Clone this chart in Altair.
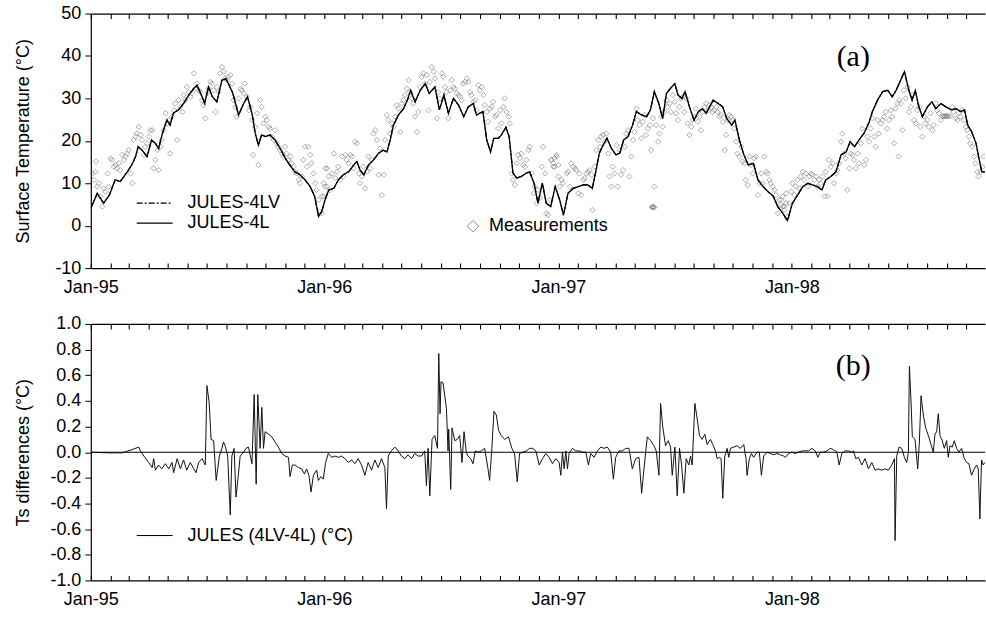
import altair as alt
import pandas as pd

# ---------------- data (days since 1995-01-01) ----------------
ts_days = [0,10,20,29,38,46,57,64,70,74,80,88,95,101,106,112,119,124,129,137,145,153,161,166,174,178,184,190,197,205,211,215,222,231,239,245,252,257,262,267,273,280,288,296,304,311,319,327,335,343,350,356,361,366,372,380,387,395,403,411,416,421,427,434,442,450,457,463,468,473,481,489,495,500,507,515,523,529,538,545,552,559,567,575,583,590,598,603,613,619,625,630,637,642,649,654,660,666,673,681,686,693,699,706,712,719,726,733,739,746,754,762,770,777,784,789,795,801,807,814,821,827,833,840,847,853,861,869,875,881,888,894,900,906,913,918,924,929,936,943,950,956,962,973,981,988,994,1002,1007,1014,1021,1028,1036,1043,1051,1059,1067,1074,1082,1089,1097,1105,1113,1121,1128,1136,1143,1149,1157,1165,1173,1181,1187,1194,1201,1209,1217,1222,1230,1238,1246,1253,1259,1265,1272,1279,1284,1289,1294,1300,1308,1315,1321,1329,1337,1345,1353,1360,1366,1371,1377,1384,1389,1393,1399]
ts_4l = [4.1,7.6,5.3,7.2,10.8,10.4,12.7,14.3,16.3,18.6,17.8,16.3,20.2,19.4,18.2,21.8,24.9,23.7,26.5,27.3,28.8,30.8,32.3,33.1,30.4,28.8,32.7,30.4,29.2,34.3,34.7,33.5,31.2,26.1,28.8,30.4,26.5,21.8,19.0,21.4,21.0,21.4,20.2,18.2,15.9,14.3,12.7,12.0,10.8,9.2,6.9,2.2,3.3,6.0,8.4,8.8,10.8,12.0,12.7,14.3,15.1,13.1,12.0,14.3,15.5,17.1,17.8,17.4,20.2,23.7,26.1,27.6,29.6,31.9,29.2,31.9,33.5,31.2,32.7,27.3,30.8,26.5,30.0,28.4,25.7,28.0,28.8,26.1,26.9,20.2,17.4,20.6,20.6,21.4,23.2,21.0,12.4,11.2,11.6,12.4,12.7,10.0,5.3,10.0,5.3,4.5,9.2,6.1,2.5,7.6,8.8,9.2,9.6,9.6,8.8,12.4,17.1,19.0,20.6,18.2,16.7,17.1,20.2,21.0,23.7,26.9,26.1,25.7,27.3,31.6,28.8,25.3,31.2,32.3,33.5,30.8,30.0,31.6,28.0,24.9,26.9,27.6,26.5,29.6,28.8,28.0,25.3,23.7,24.9,20.2,16.7,14.3,14.7,10.8,9.2,8.0,6.9,4.5,2.9,1.2,5.3,7.2,9.2,10.0,9.6,9.2,8.4,10.8,11.6,12.7,16.7,17.4,19.8,18.6,20.2,21.8,24.5,26.9,29.6,31.6,31.9,30.4,31.9,33.9,36.3,31.9,29.6,31.9,28.4,25.7,28.0,29.2,27.6,28.8,28.0,27.3,27.6,26.9,27.3,23.7,22.2,19.4,15.5,12.7,12.7]
# JULES-4LV cannot be told apart from JULES-4L at this resolution (differences < 1 degC)
ts_4lv = list(ts_4l)

meas_days = [2,5,7,10,8,15,18,13,20,23,26,28,31,33,36,39,41,44,46,49,52,54,57,59,62,65,67,70,72,75,78,80,83,85,88,91,93,96,98,101,104,106,109,111,114,117,119,122,124,127,130,132,135,137,140,143,145,148,150,153,156,158,161,163,166,169,171,174,176,179,182,184,187,189,192,195,197,200,202,205,208,210,213,215,218,221,223,226,228,231,234,236,239,241,244,247,249,252,254,257,260,262,265,267,270,273,275,278,280,283,286,288,291,293,296,299,301,304,306,309,312,314,317,319,322,325,327,330,332,335,338,340,343,345,348,351,353,356,358,361,364,366,369,
 361,364,367,369,372,374,377,380,382,385,387,390,393,395,398,400,403,406,408,411,413,416,419,421,424,426,429,432,434,437,439,442,445,447,450,452,455,458,460,463,465,468,471,473,476,478,481,484,486,489,491,494,497,499,502,504,507,510,512,515,517,520,523,525,528,530,533,536,538,541,543,546,549,551,554,556,559,562,564,567,569,572,575,577,580,582,585,588,590,593,595,598,601,603,606,608,611,614,616,619,621,624,627,629,632,634,637,640,642,645,647,650,653,655,658,660,663,666,668,671,673,676,679,681,684,686,689,692,694,697,699,702,705,707,710,712,715,718,720,723,725,728,731,
 720,723,725,728,731,733,736,738,744,746,749,751,754,757,759,762,764,767,770,772,775,777,780,783,784,788,790,793,796,798,801,803,806,809,811,814,816,819,822,824,827,829,832,835,837,840,842,845,848,850,853,855,858,861,863,866,868,871,874,876,879,881,884,887,889,892,894,897,900,902,905,907,910,913,915,918,920,923,926,928,931,933,936,939,941,944,946,949,952,954,957,959,962,965,967,970,972,975,978,980,983,985,988,991,993,996,998,1001,1004,1006,1009,1011,1014,1017,1019,1022,1024,1027,1030,1032,1035,1037,1040,1043,1045,1048,1050,1053,1056,1058,1061,1063,1066,1069,1071,1074,1076,1079,1082,1084,1087,877,878,879,880,881,
 1079,1082,1084,1087,1089,1092,1095,1097,1100,1102,1105,1108,1110,1113,1115,1118,1121,1123,1126,1128,1131,1134,1136,1139,1141,1144,1147,1149,1152,1154,1157,1160,1162,1165,1167,1170,1173,1175,1178,1180,1183,1186,1188,1191,1193,1196,1199,1201,1204,1206,1209,1212,1214,1217,1219,1222,1225,1227,1230,1232,1235,1238,1240,1243,1245,1248,1251,1253,1256,1258,1261,1263,1264,1266,1269,1271,1274,1277,1279,1282,1284,1287,1290,1292,1295,1297,1300,1303,1305,1308,1310,1313,1316,1318,1321,1323,1326,1329,1331,1333,1335,1336,1338,1339,1341,1344,1347,1349,1352,1355,1357,1360,1362,1365,1368,1370,1373,1375,1378,1381,1383,1386,1388,1391,1394,1396]
meas_vals = [12.3,10.8,12.7,9.2,15.1,6.9,4.5,10.0,8.8,8.0,12.3,9.2,15.9,15.5,13.9,14.3,13.5,14.7,13.1,16.7,15.5,16.3,17.0,17.8,12.3,10.0,20.2,21.0,21.7,23.3,21.4,20.2,16.7,18.6,19.4,21.0,22.5,22.5,13.5,15.5,17.8,13.1,18.6,20.2,22.5,26.5,24.1,24.9,17.0,25.7,27.2,28.8,20.2,29.6,28.0,26.8,30.8,29.6,32.7,31.5,30.4,31.2,35.9,32.3,33.5,31.9,31.5,29.6,28.4,25.3,31.2,32.3,33.9,33.5,31.9,26.8,32.7,31.5,35.9,37.4,36.3,34.7,34.3,35.1,35.5,33.5,29.6,28.0,25.7,30.0,32.3,31.9,31.2,33.5,30.4,27.2,28.0,24.9,16.7,23.3,26.5,14.3,29.6,28.0,24.1,25.7,24.9,23.3,22.9,21.0,20.2,22.5,19.4,18.6,17.8,17.0,16.3,18.6,17.0,15.5,16.3,14.7,13.9,12.7,12.3,10.8,10.0,11.6,15.5,18.6,13.9,18.6,16.7,14.7,12.3,10.0,8.4,6.1,3.3,2.9,6.9,9.2,13.5,
 6.9,10.0,13.5,9.2,11.6,8.4,12.3,17.0,11.2,12.7,13.9,10.8,16.3,11.6,16.7,15.5,14.7,16.7,16.3,13.5,19.8,19.4,12.3,10.0,11.6,13.9,8.8,12.7,16.3,13.5,15.5,21.7,22.5,20.2,12.0,18.2,7.2,12.0,20.2,26.1,24.9,21.7,24.1,23.3,25.7,28.4,27.6,22.1,28.8,29.6,30.8,32.3,34.3,31.5,30.0,28.8,25.7,22.1,26.8,32.7,35.1,35.9,33.5,35.5,27.2,33.9,37.4,36.3,34.7,25.3,31.5,30.0,35.9,35.1,32.7,31.5,25.3,31.9,34.3,32.7,32.3,31.2,30.8,30.4,29.6,33.5,33.9,34.7,33.9,31.5,30.8,29.2,29.6,27.2,33.1,31.9,32.7,30.8,28.4,26.8,24.5,27.6,28.0,29.2,25.7,26.1,22.9,27.2,24.1,28.0,30.0,26.8,25.7,24.1,12.3,10.8,9.6,14.7,16.7,15.9,17.0,14.3,13.9,15.5,17.8,18.6,12.3,7.6,9.2,5.3,8.4,6.5,13.9,18.6,12.3,2.9,2.5,6.1,15.5,14.7,13.9,16.3,11.6,
 15.5,13.9,15.9,16.7,14.3,9.2,10.8,10.0,12.3,12.7,9.2,14.7,13.9,13.5,13.1,7.6,12.3,7.2,10.8,11.2,12.3,12.7,13.1,12.0,3.7,13.9,17.8,20.2,18.6,21.0,21.4,19.8,21.7,17.0,11.6,9.2,13.9,12.3,19.0,9.2,17.8,12.0,13.1,18.6,21.7,22.5,11.6,16.3,20.2,22.1,27.6,24.9,23.7,20.6,24.5,26.1,21.4,22.9,23.7,17.8,25.3,9.2,23.7,19.8,21.7,25.7,23.3,26.8,29.6,28.0,28.8,26.8,30.8,29.2,26.5,24.9,28.0,30.0,30.4,26.8,30.0,24.1,21.4,23.3,24.9,25.7,27.6,24.5,25.7,22.5,26.8,28.0,28.8,27.2,28.4,28.0,26.8,27.2,28.0,26.8,25.7,26.1,24.5,17.8,21.4,24.9,26.1,25.7,24.9,22.9,19.8,17.0,16.3,18.6,15.1,14.7,10.8,9.6,16.3,14.3,12.3,15.9,16.3,7.2,10.0,12.3,10.0,16.3,12.7,12.3,10.8,10.0,9.2,8.4,7.2,2.9,6.1,4.9,4.5,3.7,5.3,4.4,4.4,4.3,4.4,4.3,
 6.1,6.9,4.5,7.6,2.1,5.3,8.0,10.0,7.2,9.2,10.8,8.8,11.6,12.7,10.8,12.3,9.2,11.6,12.3,12.0,10.8,11.6,9.2,10.8,10.0,11.6,6.9,12.7,6.9,15.5,13.9,14.7,10.0,12.3,13.1,14.7,19.8,21.7,17.0,15.9,8.4,13.5,17.0,16.7,15.5,13.5,17.0,14.7,19.4,22.9,14.3,15.5,21.0,19.8,22.9,25.3,21.0,18.6,24.9,21.7,24.1,24.9,25.7,26.8,22.9,24.9,27.2,25.7,19.4,27.6,28.8,16.3,29.6,28.8,22.5,31.9,30.0,32.7,26.8,28.0,30.8,24.9,24.1,27.2,28.0,23.3,21.0,25.7,24.1,24.9,23.3,26.5,22.5,23.7,28.8,27.2,26.5,24.9,25.8,25.8,25.8,25.8,25.8,25.8,25.8,25.8,28.0,26.8,25.3,24.9,26.5,25.7,27.2,24.9,23.3,22.5,21.0,19.4,18.6,16.3,14.7,12.7,11.6,12.7,13.9,16.3]

diff_days = [0,28,49,64.5,75,77.5,83,90.5,96,98.3,101,106,111,116.5,122,127,129.5,135,140,145,150,155.5,161,164.5,168.5,174,179,181.5,185,188,192,196,201,205,207.5,210,214,218,220.5,224,227,230,233.5,239,242.5,246.5,252,255.4,258.5,261,264.7,267.3,270,272.5,278,283,288,293.3,298.5,303.7,309,311.5,315,319.3,324.5,329.7,334,337.5,341,344.3,348,353,355.7,360,363.5,367,371.3,376.5,381.7,387,392,397.3,402.5,407.7,413,418,423.3,428.5,433.7,439,444,449.3,454.5,459.7,462.3,465,470,475.3,480.5,485.7,491,496,501.3,506.5,511.7,517,522,524.7,527.3,530,533.5,537.7,542,544,546,547.5,550.7,556,558.5,559.5,562.7,564.7,569,573,576.7,580.3,583.5,587,589.7,594,597.5,601,605.3,610.5,615.7,621,623.5,627,630.3,634,637.5,641.7,647,653,658.3,662.5,666.7,670.3,675.5,680.7,686,691,695.8,
 701,706.2,711.4,716.6,721.8,727,732.2,734.8,737.4,740,742.6,745.2,747.8,753,758.2,763.4,768.6,773.8,778,781.6,786.8,792,797.2,802.4,807.6,812.8,817,820.6,825.8,831,836.2,841.4,846.6,851.8,857,861.2,864.8,870,875.2,880.4,884,888.2,890.8,894.4,898.6,902.8,906.4,909,913.2,916.8,920.4,923.6,927.2,930.8,935,937.6,940.2,944.4,948,951.6,955.8,960,963.6,968.8,972.4,976.6,979.2,982.8,985.4,988,991.2,994.8,997.4,1000,1005.2,1010.4,1015.6,1020.8,1024.4,1026,1029.6,1032.8,1036.4,1041.6,1045.2,1048.4,1052,1057.2,1062.4,1067.6,1072.8,1078,1083.2,1085.8,1091,1096.2,1101.4,1106.6,1111.8,1117,1122.2,1127.4,1132.6,1136.8,1140.4,1145.6,1150.8,1156,1161.2,1166.4,1170,1174.2,1179.4,1184.6,1189.8,1192.4,1196,1200.2,1205.4,1210.6,1215.8,1221,1226.2,1231.4,1236.6,1241.8,1247,1252.2,1256.4,1257.4,1260,1263.6,1267.8,1272,1275.6,1278.2,1279.8,1282.4,1284.4,1288.6,1292.8,1295.4,1298,1301.6,1305.2,1309.4,1313.6,1317.2,1319.8,1322.4,1325,1327.6,1331.2,1334.4,1338,1340.6,1343.2,1346.8,1350,1353.6,1357.2,1361.4,1365.6,1369.2,1372.8,1377,1381.2,1384.8,1387.4,1390,1392.6,1395.2,1397.8]
diff_vals = [0.0,-0.005,-0.005,0.02,0.04,0.01,-0.03,-0.08,-0.12,-0.05,-0.14,-0.10,-0.13,-0.09,-0.13,-0.08,-0.16,-0.05,-0.13,-0.06,-0.14,-0.08,-0.13,-0.16,-0.08,-0.05,-0.10,0.52,0.39,0.10,0.09,-0.22,-0.03,0.03,0.08,0.05,-0.03,-0.49,-0.03,0.03,-0.35,-0.21,-0.03,0.0,0.03,0.04,-0.09,0.45,-0.25,0.45,0.03,0.35,0.03,0.16,0.14,0.12,0.08,0.04,-0.01,-0.03,-0.04,-0.19,-0.10,-0.10,-0.12,-0.13,-0.17,-0.13,-0.18,-0.31,-0.18,-0.14,-0.22,-0.19,-0.21,-0.08,-0.01,-0.04,-0.03,-0.04,-0.03,-0.05,-0.08,-0.06,-0.09,-0.05,-0.10,-0.18,-0.08,-0.14,-0.06,-0.12,-0.05,-0.12,-0.44,-0.03,0.01,0.04,0.01,-0.03,-0.05,-0.02,-0.05,-0.01,-0.03,-0.03,0.01,-0.26,0.03,-0.34,0.10,0.13,0.03,0.77,0.30,0.55,0.54,0.34,0.01,0.18,-0.29,0.19,0.09,0.10,0.13,-0.08,0.16,0.0,-0.03,-0.05,-0.09,0.01,0.0,0.01,0.03,-0.13,-0.22,0.03,0.32,0.29,0.17,0.13,0.10,0.12,0.03,-0.01,-0.23,-0.01,0.0,0.01,0.03,0.03,0.01,
 -0.10,-0.05,-0.01,-0.04,-0.09,-0.05,-0.08,-0.18,0.0,-0.13,0.01,-0.13,-0.01,0.03,0.01,0.01,0.0,0.0,-0.10,-0.01,-0.04,0.01,0.04,0.03,0.04,0.0,-0.21,-0.04,0.01,0.01,0.03,0.03,-0.13,-0.05,-0.04,-0.32,-0.13,0.12,0.09,0.05,0.01,-0.18,0.38,0.19,0.05,0.09,0.04,-0.18,0.04,-0.34,0.03,-0.10,-0.32,-0.05,-0.10,-0.03,-0.10,0.38,0.26,0.13,0.10,0.14,0.06,0.10,0.06,0.01,-0.05,-0.04,-0.05,-0.36,-0.03,0.03,-0.04,0.03,0.04,0.05,0.03,0.06,-0.05,-0.18,-0.05,-0.01,-0.04,0.0,0.0,-0.18,-0.03,0.0,-0.01,-0.02,-0.01,-0.02,-0.03,-0.04,-0.01,0.0,-0.01,0.0,0.01,0.01,0.01,0.03,0.01,-0.04,0.0,0.0,0.01,0.03,0.02,0.0,-0.10,-0.01,0.01,0.01,0.0,0.01,-0.05,-0.04,-0.10,-0.05,-0.13,-0.08,-0.14,-0.13,-0.14,-0.13,-0.14,-0.10,-0.05,-0.69,-0.03,0.04,0.03,-0.04,-0.08,0.0,0.67,0.39,0.12,0.10,-0.13,0.08,0.44,0.29,0.19,0.13,0.06,0.0,0.14,0.16,0.30,0.13,0.09,0.03,0.09,-0.04,0.05,0.04,0.09,0.03,0.0,0.03,-0.05,-0.08,-0.09,-0.18,-0.13,-0.10,-0.13,-0.52,-0.06,-0.10,-0.08]

# legend / annotation text
legend_a_labels = ["JULES-4LV", "JULES-4L"]
legend_meas_label = "Measurements"
legend_b_label = "JULES (4LV-4L) (°C)"

# ---------------- helpers ----------------
BASE = pd.Timestamp("1995-01-01")
def to_ms(days):
    return [int((BASE + pd.Timedelta(days=float(d))).value // 10**6) for d in days]

ts_df = pd.DataFrame({"t": to_ms(ts_days), "v4l": ts_4l, "v4lv": ts_4lv})
meas_df = pd.DataFrame({"t": to_ms(meas_days), "v": meas_vals})
diff_df = pd.DataFrame({"t": to_ms(diff_days), "v": diff_vals})
zero_df = pd.DataFrame({"v": [0.0]})
one = pd.DataFrame({"a": [0]})

month_ticks = [int(d.value // 10**6) for d in pd.date_range("1995-01-01", "1998-10-01", freq="MS")]
x_domain = to_ms([0, 1398])

W, H1, H2 = 896, 255, 257
FONT = "Liberation Sans"
xscale = alt.Scale(type="utc", domain=x_domain)

def label_axis(pad):
    return alt.Axis(orient="bottom", values=month_ticks, ticks=False, domain=True, domainColor="black",
                    domainWidth=1.2, grid=False, title=None, labelFlush=False, labelOverlap=False,
                    labelExpr="utcmonth(datum.value) == 0 ? utcFormat(datum.value, '%b-%y') : ''",
                    labelFontSize=18, labelFont=FONT, labelColor="black", labelPadding=pad)

def tick_axis_bottom(h):   # ticks at the bottom edge pointing up (inward)
    return alt.Axis(orient="top", offset=-h, values=month_ticks, labels=False, domain=False, grid=False,
                    title=None, tickSize=5, tickColor="black", tickWidth=1.1)

def tick_axis_top(h):      # top border with ticks pointing down (inward)
    return alt.Axis(orient="bottom", offset=-h, values=month_ticks, labels=False, domain=True, grid=False,
                    domainColor="black", domainWidth=1.2, title=None, tickSize=5, tickColor="black", tickWidth=1.1)

def y_axis(title, vals, fmt, h):
    return alt.Axis(values=vals, title=title, grid=False, tickSize=6, tickColor="black", domainColor="black",
                    domainWidth=1.2, labelFontSize=18, labelFont=FONT, labelColor="black", labelPadding=4,
                    labelExpr=f"datum.value < 0 ? '-' + format(-datum.value, '{fmt}') : format(datum.value, '{fmt}')",
                    titleFontSize=18, titleFont=FONT, titleFontWeight="normal", titleColor="black",
                    titleX=-58, titleY=h / 2)

txt = dict(align="left", baseline="middle", fontSize=18, font=FONT, color="black")

# ---------------- panel (a) ----------------
ya = alt.Scale(domain=[-10, 50], nice=False)
yax_a = y_axis("Surface Temperature (°C)", list(range(-10, 51, 10)), "d", H1)
pts = alt.Chart(meas_df).mark_point(shape="diamond", filled=False, size=28, color="#6f6f6f",
                                    strokeWidth=0.8, clip=True).encode(
    x=alt.X("t:T", scale=xscale, axis=label_axis(10)),
    y=alt.Y("v:Q", scale=ya, axis=yax_a),
)
l4lv = alt.Chart(ts_df).mark_line(color="black", strokeWidth=1.2, strokeDash=[6, 2, 2, 2], clip=True).encode(
    x=alt.X("t:T", scale=xscale, axis=tick_axis_bottom(H1)),
    y=alt.Y("v4lv:Q", scale=ya, axis=yax_a),
)
l4l = alt.Chart(ts_df).mark_line(color="black", strokeWidth=1.3, clip=True).encode(
    x=alt.X("t:T", scale=xscale, axis=tick_axis_top(H1)),
    y=alt.Y("v4l:Q", scale=ya, axis=yax_a),
)
leg_a = [
    alt.Chart(one).mark_rule(color="black", strokeWidth=1.2, strokeDash=[6, 2, 2, 2]).encode(
        x=alt.value(46), x2=alt.value(82), y=alt.value(190)),
    alt.Chart(one).mark_rule(color="black", strokeWidth=1.3).encode(
        x=alt.value(46), x2=alt.value(82), y=alt.value(210)),
    alt.Chart(one).mark_text(**txt).encode(x=alt.value(97), y=alt.value(190), text=alt.value(legend_a_labels[0])),
    alt.Chart(one).mark_text(**txt).encode(x=alt.value(97), y=alt.value(210), text=alt.value(legend_a_labels[1])),
    alt.Chart(one).mark_point(shape="diamond", filled=False, size=130, color="#555555", strokeWidth=1).encode(
        x=alt.value(383), y=alt.value(213)),
    alt.Chart(one).mark_text(**txt).encode(x=alt.value(399), y=alt.value(213), text=alt.value(legend_meas_label)),
    alt.Chart(one).mark_text(font="Liberation Serif", fontSize=30, align="center", baseline="middle",
                             color="black").encode(x=alt.value(764), y=alt.value(44), text=alt.value("(a)")),
]
panel_a = alt.layer(pts, l4lv, l4l, *leg_a).resolve_axis(x="independent", y="shared").properties(width=W, height=H1)

# ---------------- panel (b) ----------------
yb = alt.Scale(domain=[-1, 1], nice=False)
yax_b = y_axis("Ts differences (°C)", [round(-1 + 0.2 * i, 1) for i in range(11)], ".1f", H2)
dline = alt.Chart(diff_df).mark_line(color="#111111", strokeWidth=1.0, clip=True).encode(
    x=alt.X("t:T", scale=xscale, axis=label_axis(10)),
    y=alt.Y("v:Q", scale=yb, axis=yax_b),
)
zero = alt.Chart(zero_df).mark_rule(color="black", strokeWidth=1.1).encode(
    y=alt.Y("v:Q", scale=yb, axis=yax_b))
tk1 = alt.Chart(diff_df).mark_point(opacity=0, size=1).encode(
    x=alt.X("t:T", scale=xscale, axis=tick_axis_bottom(H2)),
    y=alt.Y("v:Q", scale=yb, axis=yax_b))
tk2 = alt.Chart(diff_df).mark_point(opacity=0, size=1).encode(
    x=alt.X("t:T", scale=xscale, axis=tick_axis_top(H2)),
    y=alt.Y("v:Q", scale=yb, axis=yax_b))
leg_b = [
    alt.Chart(one).mark_rule(color="black", strokeWidth=1.0).encode(
        x=alt.value(46), x2=alt.value(82), y=alt.value(212)),
    alt.Chart(one).mark_text(**txt).encode(x=alt.value(97), y=alt.value(212), text=alt.value(legend_b_label)),
    alt.Chart(one).mark_text(font="Liberation Serif", fontSize=30, align="center", baseline="middle",
                             color="black").encode(x=alt.value(764), y=alt.value(42), text=alt.value("(b)")),
]
panel_b = alt.layer(dline, zero, tk1, tk2, *leg_b).resolve_axis(x="independent", y="shared").properties(width=W, height=H2)

chart = alt.vconcat(panel_a, panel_b, spacing=19).properties(
    padding={"left": 14, "top": 4, "right": 0, "bottom": 0},
    background="white",
).configure_view(stroke=None)

chart.save("out.html", embed_options={"renderer": "svg", "actions": False})
